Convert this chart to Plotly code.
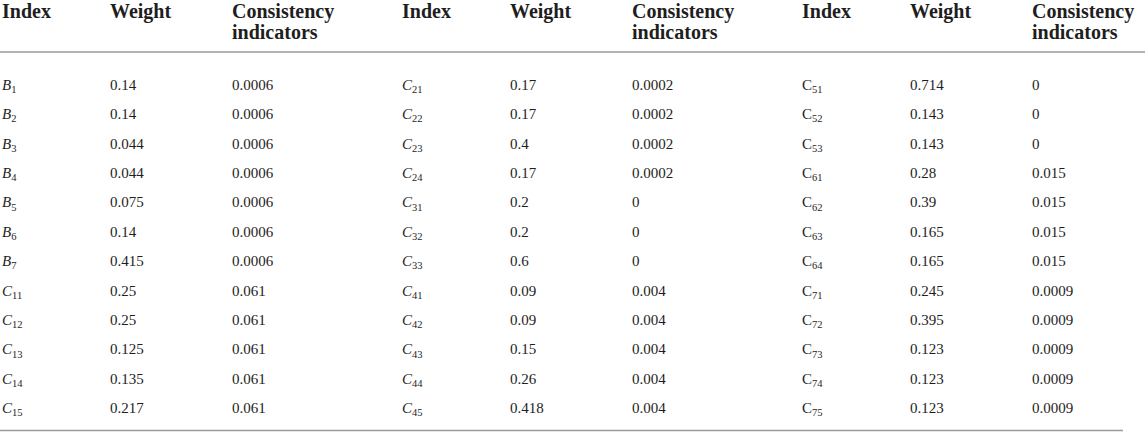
import plotly.graph_objects as go

# header labels
headers = ["Index", "Weight", "Consistency", "indicators"]

# three column groups of the table
index_1 = ["<i>B</i><sub>1</sub>", "<i>B</i><sub>2</sub>", "<i>B</i><sub>3</sub>", "<i>B</i><sub>4</sub>",
           "<i>B</i><sub>5</sub>", "<i>B</i><sub>6</sub>", "<i>B</i><sub>7</sub>",
           "<i>C</i><sub>11</sub>", "<i>C</i><sub>12</sub>", "<i>C</i><sub>13</sub>",
           "<i>C</i><sub>14</sub>", "<i>C</i><sub>15</sub>"]
weight_1 = ["0.14", "0.14", "0.044", "0.044", "0.075", "0.14", "0.415",
            "0.25", "0.25", "0.125", "0.135", "0.217"]
ci_1 = ["0.0006", "0.0006", "0.0006", "0.0006", "0.0006", "0.0006", "0.0006",
        "0.061", "0.061", "0.061", "0.061", "0.061"]

index_2 = ["<i>C</i><sub>21</sub>", "<i>C</i><sub>22</sub>", "<i>C</i><sub>23</sub>", "<i>C</i><sub>24</sub>",
           "<i>C</i><sub>31</sub>", "<i>C</i><sub>32</sub>", "<i>C</i><sub>33</sub>",
           "<i>C</i><sub>41</sub>", "<i>C</i><sub>42</sub>", "<i>C</i><sub>43</sub>",
           "<i>C</i><sub>44</sub>", "<i>C</i><sub>45</sub>"]
weight_2 = ["0.17", "0.17", "0.4", "0.17", "0.2", "0.2", "0.6",
            "0.09", "0.09", "0.15", "0.26", "0.418"]
ci_2 = ["0.0002", "0.0002", "0.0002", "0.0002", "0", "0", "0",
        "0.004", "0.004", "0.004", "0.004", "0.004"]

index_3 = ["C<sub>51</sub>", "C<sub>52</sub>", "C<sub>53</sub>",
           "C<sub>61</sub>", "C<sub>62</sub>", "C<sub>63</sub>", "C<sub>64</sub>",
           "C<sub>71</sub>", "C<sub>72</sub>", "C<sub>73</sub>", "C<sub>74</sub>", "C<sub>75</sub>"]
weight_3 = ["0.714", "0.143", "0.143", "0.28", "0.39", "0.165", "0.165",
            "0.245", "0.395", "0.123", "0.123", "0.123"]
ci_3 = ["0", "0", "0", "0.015", "0.015", "0.015", "0.015",
        "0.0009", "0.0009", "0.0009", "0.0009", "0.0009"]

W, H = 1145, 432
col_x = [2, 110, 232, 402, 510, 632, 802, 910, 1032]
row_y = [86 + 29.4 * i for i in range(len(weight_1))]
txt_col = "#1e1e1e"
body_font = dict(family="Liberation Serif", size=15, color=txt_col)
head_font = dict(family="Liberation Serif", size=20, color=txt_col)

fig = go.Figure()

columns = [index_1, weight_1, ci_1, index_2, weight_2, ci_2, index_3, weight_3, ci_3]
for x, col in zip(col_x, columns):
    fig.add_trace(go.Scatter(
        x=[x] * len(col), y=row_y, text=col, mode="text",
        textposition="middle right", textfont=body_font,
        hoverinfo="skip", showlegend=False, cliponaxis=False))

# header rows
for g in range(3):
    xs = col_x[g * 3:g * 3 + 3]
    fig.add_trace(go.Scatter(
        x=xs + [xs[2]], y=[13, 13, 13, 34],
        text=["<b>%s</b>" % h for h in headers],
        mode="text", textposition="middle right", textfont=head_font,
        hoverinfo="skip", showlegend=False, cliponaxis=False))

fig.add_shape(type="line", x0=0, x1=W, y0=52, y1=52,
              line=dict(color="#9a9a9a", width=1.5))
fig.add_shape(type="line", x0=0, x1=1123, y0=430.5, y1=430.5,
              line=dict(color="#9a9a9a", width=1.5))

fig.update_xaxes(range=[0, W], visible=False, fixedrange=True)
fig.update_yaxes(range=[H, 0], visible=False, fixedrange=True)
fig.update_layout(width=W, height=H, margin=dict(l=0, r=0, t=0, b=0),
                  plot_bgcolor="white", paper_bgcolor="white")

# the page has a default 8px body margin; drop it so the table sits at the edge
fig.write_html("out.html", config={"displayModeBar": False},
               post_script="document.body.style.margin='0';")
